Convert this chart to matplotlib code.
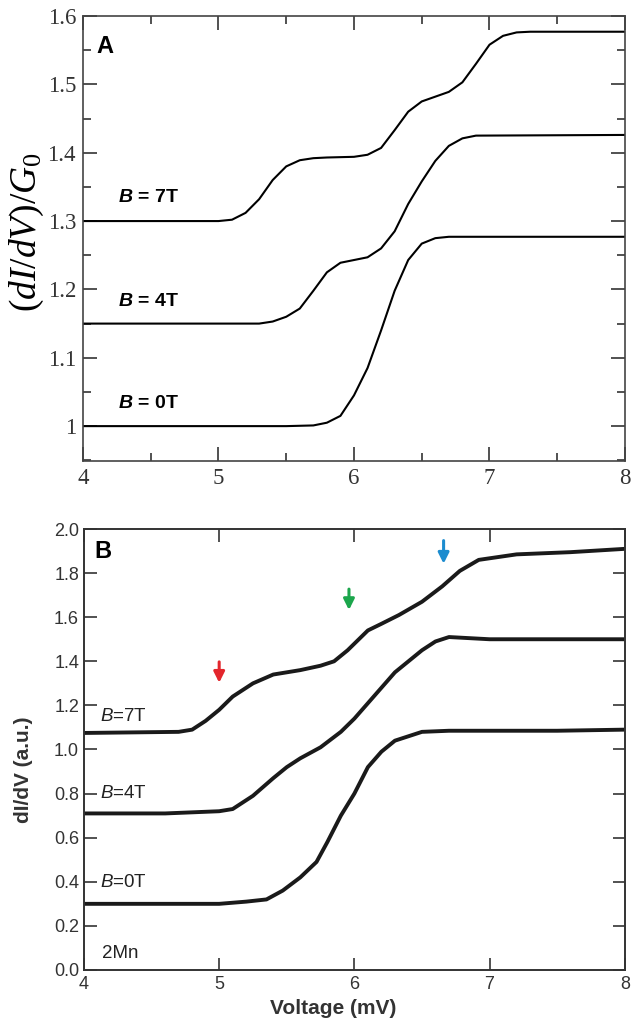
import numpy as np
import matplotlib
matplotlib.use("Agg")
import matplotlib.pyplot as plt
from matplotlib.ticker import MultipleLocator, FuncFormatter

plt.rcParams["mathtext.fontset"] = "custom"
plt.rcParams["mathtext.it"] = "Liberation Serif:italic"
plt.rcParams["mathtext.rm"] = "Liberation Serif"
plt.rcParams["mathtext.sf"] = "Liberation Sans:italic"
plt.rcParams["mathtext.bfit"] = "Liberation Sans:italic:bold"

# Panel A: calculated dI/dV curves
a_x0 = [4.0, 5.5, 5.7, 5.8, 5.9, 6.0, 6.1, 6.2, 6.3, 6.4, 6.5, 6.6, 6.7, 8.0]
a_y0 = [1.000, 1.000, 1.001, 1.005, 1.015, 1.045, 1.085, 1.140, 1.198, 1.243, 1.267, 1.275, 1.277, 1.277]

a_x4 = [4.0, 5.3, 5.4, 5.5, 5.6, 5.7, 5.8, 5.9, 6.0, 6.1, 6.2, 6.3, 6.4, 6.5, 6.6, 6.7, 6.8, 6.9, 8.0]
a_y4 = [1.150, 1.150, 1.153, 1.160, 1.172, 1.198, 1.225, 1.239, 1.243, 1.247, 1.260, 1.285, 1.325,
        1.358, 1.388, 1.410, 1.421, 1.425, 1.426]

a_x7 = [4.0, 5.0, 5.1, 5.2, 5.3, 5.4, 5.5, 5.6, 5.7, 5.8, 6.0, 6.1, 6.2, 6.3, 6.4, 6.5, 6.6, 6.7,
        6.8, 6.9, 7.0, 7.1, 7.2, 7.3, 8.0]
a_y7 = [1.300, 1.300, 1.302, 1.312, 1.332, 1.360, 1.380, 1.389, 1.392, 1.393, 1.394, 1.397, 1.407,
        1.433, 1.460, 1.475, 1.482, 1.489, 1.503, 1.530, 1.558, 1.571, 1.576, 1.577, 1.577]

b_x0 = [4.0, 5.0, 5.2, 5.35, 5.47, 5.6, 5.72, 5.8, 5.9, 6.0, 6.1, 6.2, 6.3, 6.4, 6.5, 6.7, 7.5, 8.0]
b_y0 = [0.30, 0.30, 0.31, 0.32, 0.36, 0.42, 0.49, 0.58, 0.70, 0.80, 0.92, 0.99, 1.04, 1.06, 1.08,
        1.085, 1.085, 1.09]

b_x4 = [4.0, 4.6, 5.0, 5.1, 5.25, 5.4, 5.5, 5.6, 5.75, 5.9, 6.0, 6.1, 6.2, 6.3, 6.4, 6.5, 6.6, 6.7, 7.0, 8.0]
b_y4 = [0.71, 0.71, 0.72, 0.73, 0.79, 0.87, 0.92, 0.96, 1.01, 1.08, 1.14, 1.21, 1.28, 1.35, 1.40,
        1.45, 1.49, 1.51, 1.50, 1.50]

b_x7 = [4.0, 4.7, 4.8, 4.9, 5.0, 5.1, 5.25, 5.4, 5.6, 5.75, 5.85, 5.95, 6.1, 6.2, 6.33, 6.5, 6.65,
        6.78, 6.92, 7.2, 7.6, 8.0]
b_y7 = [1.075, 1.08, 1.09, 1.13, 1.18, 1.24, 1.30, 1.34, 1.36, 1.38, 1.40, 1.45, 1.54, 1.57, 1.61,
        1.67, 1.74, 1.81, 1.86, 1.885, 1.895, 1.91]

# arrows marking the steps on the 7T trace: x, top, tip, colour
arrow_x = [5.0, 5.96, 6.66]
arrow_top = [1.41, 1.74, 1.96]
arrow_tip = [1.29, 1.62, 1.83]
arrow_colors = ["#e3262c", "#1ca64c", "#1c8ccf"]

fig = plt.figure(figsize=(6.31, 10.26), dpi=100)

# ---- panel A ----
axA = fig.add_axes([0.1315, 0.5507, 0.859, 0.4337])
for xs, ys in [(a_x0, a_y0), (a_x4, a_y4), (a_x7, a_y7)]:
    axA.plot(xs, ys, color="black", lw=1.5)
axA.set_xlim(4, 8)
axA.set_ylim(0.949, 1.6)
axA.xaxis.set_major_locator(MultipleLocator(1))
axA.xaxis.set_minor_locator(MultipleLocator(0.5))
axA.yaxis.set_major_locator(MultipleLocator(0.1))
axA.yaxis.set_minor_locator(MultipleLocator(0.05))
axA.yaxis.set_major_formatter(FuncFormatter(lambda v, p: "1" if abs(v - 1) < 1e-6 else f"{v:.1f}"))
axA.tick_params(which="both", direction="in", top=True, right=True, color="#333333", width=1.2)
axA.tick_params(which="major", length=10)
axA.tick_params(which="minor", length=6)
axA.tick_params(labelsize=16.5, pad=5, labelcolor="#333333")
for lab in axA.get_xticklabels() + axA.get_yticklabels():
    lab.set_family("Liberation Serif")
for sp in axA.spines.values():
    sp.set_color("#444444")
    sp.set_linewidth(1.2)
axA.set_ylabel("$(dI/dV)/G_0$", fontsize=27)
axA.yaxis.set_label_coords(-0.068, 0.515)
axA.text(4.1, 1.555, "A", fontsize=17, fontweight="bold", family="Liberation Sans", va="center")
for yv, lab in [(1.335, "7T"), (1.183, "4T"), (1.033, "0T")]:
    axA.text(4.26, yv, r"$\mathbfit{B}$ = " + lab, fontsize=14, fontweight="bold",
             family="Liberation Sans", va="center")

# ---- panel B ----
axB = fig.add_axes([0.1331, 0.0546, 0.857, 0.4298])
for xs, ys in [(b_x0, b_y0), (b_x4, b_y4), (b_x7, b_y7)]:
    axB.plot(xs, ys, color="#1a1a1a", lw=2.8, solid_joinstyle="round")
axB.set_xlim(4, 8)
axB.set_ylim(0, 2.0)
axB.xaxis.set_major_locator(MultipleLocator(1))
axB.yaxis.set_major_locator(MultipleLocator(0.2))
axB.yaxis.set_major_formatter(FuncFormatter(lambda v, p: f"{v:.1f}"))
axB.tick_params(direction="in", top=True, right=True, length=9, width=1.2, color="#333333",
                labelsize=13, labelcolor="#333333")
axB.tick_params(axis="x", pad=4)
for lab in axB.get_xticklabels() + axB.get_yticklabels():
    lab.set_family("Liberation Sans")
for sp in axB.spines.values():
    sp.set_color("#333333")
    sp.set_linewidth(1.4)
axB.set_xlabel("Voltage (mV)", fontsize=15, fontweight="bold", family="Liberation Sans",
               color="#333333")
axB.xaxis.set_label_coords(0.46, -0.066)
axB.set_ylabel("dI/dV (a.u.)", fontsize=15, fontweight="bold", family="Liberation Sans",
               color="#333333")
axB.yaxis.set_label_coords(-0.094, 0.453)
axB.text(4.08, 1.9, "B", fontsize=17, fontweight="bold", family="Liberation Sans", va="center")
for yv, lab in [(1.15, "7T"), (0.80, "4T"), (0.395, "0T")]:
    axB.text(4.12, yv, r"$\mathsf{B}$=" + lab, fontsize=13.5, family="Liberation Sans",
             va="center", color="#222222")
axB.text(4.13, 0.075, "2Mn", fontsize=13.5, family="Liberation Sans", va="center", color="#222222")
for ax_x, top, tip, col in zip(arrow_x, arrow_top, arrow_tip, arrow_colors):
    axB.annotate("", xy=(ax_x, tip), xytext=(ax_x, top),
                 arrowprops=dict(arrowstyle="-|>", color=col, lw=2.2, mutation_scale=16))

fig.savefig("out.png", dpi=100)
